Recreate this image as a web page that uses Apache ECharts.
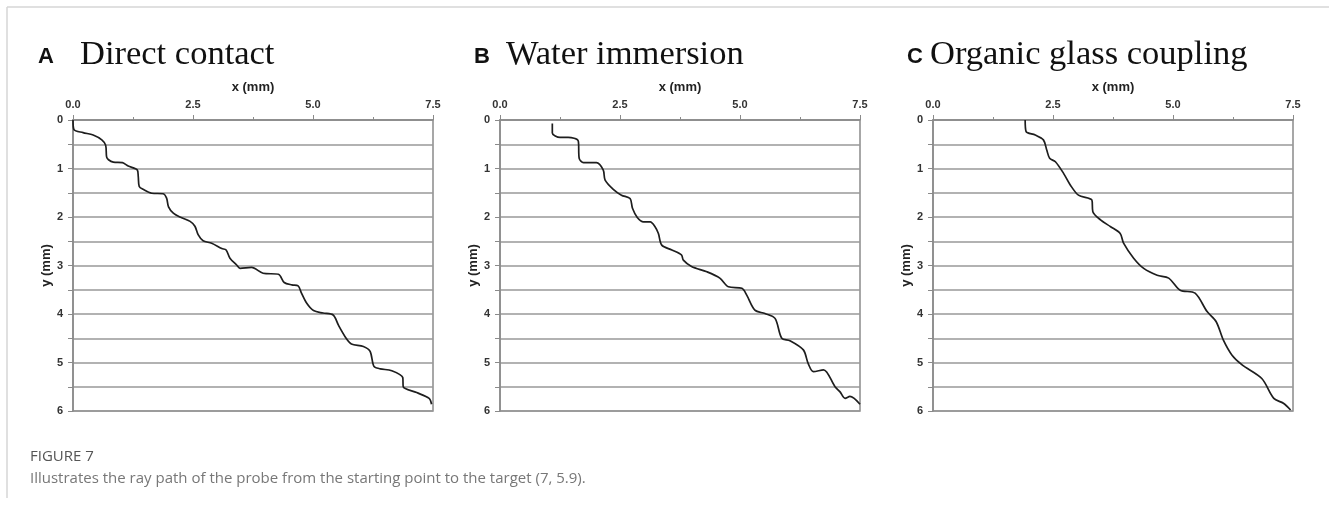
<!DOCTYPE html>
<html>
<head>
<meta charset="utf-8">
<script src="https://cdn.jsdelivr.net/npm/echarts@6/dist/echarts.min.js"></script>
<style>
  html, body { margin: 0; padding: 0; background: #fff; }
  #main { width: 1329px; height: 509px; }
</style>
</head>
<body>
<div id="main"></div>
<script>
// panel labels / titles
var panelLetters = ['A', 'B', 'C'];
var panelTitles = ['Direct contact', 'Water immersion', 'Organic glass coupling'];
var xTicks = [0, 2.5, 5, 7.5];
var yTicks = [0, 1, 2, 3, 4, 5, 6];

// A - direct contact (x mm, y mm)
var xA = [0, 0.02, 0.21, 0.42, 0.6, 0.68, 0.7, 0.74, 0.84, 1.03, 1.15, 1.34, 1.36, 1.38, 1.46, 1.64, 1.88, 1.95, 1.99, 2.09,
  2.23, 2.44, 2.54, 2.61, 2.71, 2.89, 3.1, 3.19, 3.27, 3.41, 3.48, 3.72, 3.96, 4.28, 4.4, 4.56, 4.69, 4.76, 4.87, 5.01,
  5.21, 5.42, 5.53, 5.69, 5.8, 6.05, 6.19, 6.27, 6.4, 6.64, 6.87, 6.88, 7.16, 7.42, 7.47];
var yA = [0, 0.2, 0.26, 0.31, 0.41, 0.52, 0.76, 0.82, 0.87, 0.88, 0.95, 1.03, 1.17, 1.37, 1.43, 1.51, 1.52, 1.61, 1.79, 1.92,
  2.0, 2.09, 2.19, 2.37, 2.49, 2.54, 2.65, 2.68, 2.85, 2.99, 3.06, 3.04, 3.16, 3.18, 3.35, 3.4, 3.42, 3.57, 3.78, 3.93,
  3.98, 4.02, 4.23, 4.5, 4.62, 4.67, 4.77, 5.08, 5.13, 5.17, 5.31, 5.5, 5.62, 5.74, 5.86];

// B - water immersion
var xB = [1.09, 1.09, 1.25, 1.42, 1.63, 1.65, 1.74, 2.01, 2.15, 2.19, 2.36, 2.53, 2.71, 2.76, 2.86, 2.99, 3.13, 3.23, 3.3, 3.37,
  3.58, 3.78, 3.82, 3.99, 4.31, 4.58, 4.76, 5.04, 5.14, 5.31, 5.52, 5.73, 5.87, 6.04, 6.32, 6.42, 6.53, 6.74, 6.98, 7.08,
  7.19, 7.29, 7.5];
var yB = [0.07, 0.27, 0.36, 0.36, 0.43, 0.79, 0.88, 0.88, 1.03, 1.24, 1.43, 1.55, 1.62, 1.82, 2.01, 2.1, 2.1, 2.2, 2.34, 2.58,
  2.68, 2.78, 2.89, 3.02, 3.13, 3.26, 3.44, 3.47, 3.61, 3.92, 3.99, 4.09, 4.5, 4.55, 4.74, 5.02, 5.19, 5.15, 5.5, 5.6,
  5.74, 5.7, 5.86];

// C - organic glass coupling
var xC = [1.92, 1.94, 2.13, 2.3, 2.37, 2.43, 2.55, 2.72, 2.86, 3.03, 3.31, 3.33, 3.49, 3.7, 3.9, 3.97, 4.18, 4.39, 4.67, 4.91,
  5.15, 5.46, 5.71, 5.9, 6.05, 6.23, 6.44, 6.85, 7.1, 7.3, 7.45];
var yC = [0, 0.24, 0.31, 0.41, 0.62, 0.79, 0.86, 1.1, 1.34, 1.55, 1.65, 1.89, 2.06, 2.2, 2.34, 2.54, 2.85, 3.06, 3.2, 3.26,
  3.51, 3.57, 3.95, 4.16, 4.54, 4.85, 5.05, 5.33, 5.74, 5.84, 5.98];

var xs = [xA, xB, xC];
var ys = [yA, yB, yC];

var myChart = echarts.init(document.getElementById('main'));

var gridLeft = [73, 500, 933];
var letterLeft = [38, 474, 907];
var titleLeft = [80, 506, 930];

var grids = [], xAxes = [], yAxes = [], series = [], titles = [];
for (var i = 0; i < 3; i++) {
    grids.push({
        left: gridLeft[i], top: 120, width: 360, height: 291,
        show: true, borderColor: '#8a8a8a', borderWidth: 1.5
    });
    xAxes.push({
        gridIndex: i, type: 'value', position: 'top',
        min: 0, max: 7.5, interval: 2.5,
        name: 'x (mm)', nameLocation: 'middle', nameGap: 22,
        nameTextStyle: { fontFamily: 'Liberation Sans', fontWeight: 'bold', fontSize: 13, color: '#222' },
        axisLine: { lineStyle: { color: '#8a8a8a', width: 1.5 } },
        axisTick: { show: true, length: 5, lineStyle: { color: '#8a8a8a' } },
        minorTick: { show: true, splitNumber: 2, length: 3, lineStyle: { color: '#8a8a8a' } },
        splitLine: { show: false },
        axisLabel: {
            margin: 10, fontFamily: 'Liberation Sans', fontWeight: 'bold', fontSize: 11, color: '#333',
            formatter: function (v) { return xTicks.indexOf(v) >= 0 ? v.toFixed(1) : ''; }
        }
    });
    yAxes.push({
        gridIndex: i, type: 'value', inverse: true,
        min: 0, max: 6, interval: 0.5,
        name: 'y (mm)', nameLocation: 'middle', nameGap: 20, nameRotate: 90,
        nameTextStyle: { fontFamily: 'Liberation Sans', fontWeight: 'bold', fontSize: 13, color: '#222' },
        axisLine: { show: true, lineStyle: { color: '#8a8a8a', width: 1.5 } },
        axisTick: { show: true, length: 5, lineStyle: { color: '#8a8a8a' } },
        splitLine: { show: true, lineStyle: { color: '#999', width: 1.5 } },
        axisLabel: {
            margin: 10, fontFamily: 'Liberation Sans', fontWeight: 'bold', fontSize: 11, color: '#333',
            formatter: function (v) { return yTicks.indexOf(v) >= 0 ? String(v) : ''; }
        }
    });
    var pts = [];
    for (var k = 0; k < xs[i].length; k++) pts.push([xs[i][k], ys[i][k]]);
    series.push({
        type: 'line', xAxisIndex: i, yAxisIndex: i, data: pts,
        showSymbol: false, smooth: 0.3,
        lineStyle: { color: '#1e1e1e', width: 1.7 }
    });
    titles.push({
        text: panelLetters[i], left: letterLeft[i], top: 46, padding: 0,
        textStyle: { fontFamily: 'Liberation Sans', fontWeight: 'bold', fontSize: 22, color: '#111' }
    });
    titles.push({
        text: panelTitles[i], left: titleLeft[i], top: 37, padding: 0,
        textStyle: { fontFamily: 'Liberation Serif', fontWeight: 'normal', fontSize: 34.5, color: '#111' }
    });
}
titles.push({
    text: 'FIGURE 7', left: 30, top: 449, padding: 0,
    textStyle: { fontFamily: 'Open Sans', fontWeight: 'normal', fontSize: 15, color: '#555' }
});
titles.push({
    text: 'Illustrates the ray path of the probe from the starting point to the target (7, 5.9).', left: 30, top: 471, padding: 0,
    textStyle: { fontFamily: 'Open Sans', fontWeight: 'normal', fontSize: 15, color: '#777' }
});

var option = {
    backgroundColor: '#fff',
    animation: false,
    title: titles,
    grid: grids,
    xAxis: xAxes,
    yAxis: yAxes,
    series: series,
    graphic: [
        { type: 'line', shape: { x1: 7, y1: 7, x2: 1329, y2: 7 }, style: { stroke: '#d6d6d6', lineWidth: 1.5 } },
        { type: 'line', shape: { x1: 7, y1: 7, x2: 7, y2: 498 }, style: { stroke: '#d6d6d6', lineWidth: 1.5 } }
    ]
};
myChart.setOption(option);
window.addEventListener("resize", function () {
    myChart.resize();
});
</script>
</body>
</html>
